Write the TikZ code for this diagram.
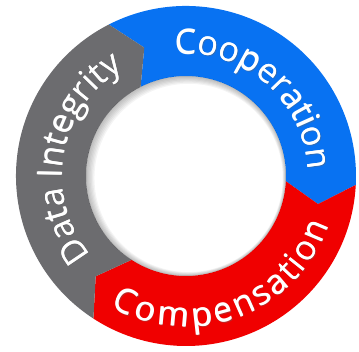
\documentclass[tikz,border=0pt]{standalone}
\usepackage{fontspec}
\setmainfont{Open Sans}
\usetikzlibrary{decorations.text}
\definecolor{ringblue}{RGB}{8,114,242}
\definecolor{ringred}{RGB}{240,0,0}
\definecolor{ringgray}{RGB}{108,108,111}
\tikzset{
  arctext/.style 2 args={decorate, decoration={text along path, text align=center,
     text color=#2, text={|\fontsize{34}{34}\selectfont|#1}}},
  fitarctext/.style 2 args={decorate, decoration={text effects along path,
     text={#1}, text effects/.cd, text along path, fit text to path,
     characters={text=#2, font=\fontsize{34}{34}\selectfont}}},
}
\newcommand\ringseg[3]{%
  \fill[#1] (#2:170pt) arc[start angle=#2, end angle=#3, radius=170pt]
    -- ({#3-9}:135pt) -- (#3:100pt)
    arc[start angle=#3, end angle=#2, radius=100pt]
    -- ({#2-9}:135pt) -- cycle;}
% text in three layers: soft shadow, face, thickening copy
\newcommand\ringlabel[2]{%
  \begin{scope}[shift={(0.9pt,-0.9pt)}, opacity=0.4]#1{black!60}{#2}\end{scope}
  #1{white}{#2}
  \begin{scope}[shift={(0.35pt,0.2pt)}]#1{white}{#2}\end{scope}}
\newcommand\coop[2]{\path[arctext={#2}{#1}] (109:122pt) arc[start angle=109, end angle=-11, radius=122pt];}
\newcommand\dataint[2]{\path[arctext={#2}{#1}] (230:124pt) arc[start angle=230, end angle=110, radius=124pt];}
\newcommand\compens[2]{\path[fitarctext={#2}{#1}] (240:151pt) arc[start angle=240, end angle=341, radius=151pt];}
\begin{document}
\begin{tikzpicture}
\useasboundingbox (-186pt,-176pt) rectangle (173pt,176pt);
% segments
\ringseg{ringblue}{117}{-3}
\ringseg{ringred}{357}{237}
\ringseg{ringgray}{237}{117}
% inner shadow in the hole
\begin{scope}
  \clip (0,0) circle (100pt);
  \foreach \s in {0.5,1.5,...,6.5}{
    \pgfmathsetmacro\rr{100-\s*0.9}
    \fill[black, opacity=0.045, even odd rule]
      ([shift={(0.4*\s pt,-0.3*\s pt)}]0,0) circle (200pt)
      ([shift={(0.4*\s pt,-0.3*\s pt)}]0,0) circle (\rr pt);
  }
\end{scope}
% texts
\ringlabel{\coop}{Cooperation}
\ringlabel{\dataint}{Data Integrity}
\ringlabel{\compens}{Compensation}
\end{tikzpicture}
\end{document}
